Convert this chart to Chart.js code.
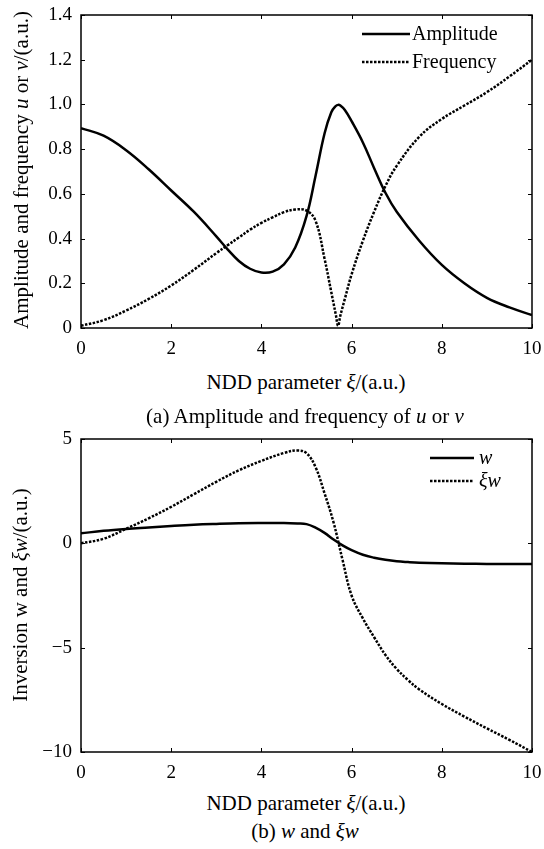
<!DOCTYPE html>
<html><head><meta charset="utf-8">
<script src="https://cdn.jsdelivr.net/npm/chart.js@4"></script>
<style>
body{margin:0;background:#fff;width:544px;height:849px;position:relative;overflow:hidden;font-family:"Liberation Serif","Times New Roman",Times,Tinos,"Noto Serif","DejaVu Serif",serif;color:#000}
canvas{position:absolute;left:0}
.t{position:absolute;font-size:21px;line-height:1;white-space:nowrap;transform:translate(-50%,-50%)}
.r{transform:translate(-50%,-50%) rotate(-90deg)}
</style></head><body>
<canvas id="c1" width="544" height="360" style="top:0"></canvas>
<canvas id="c2" width="544" height="360" style="top:424px"></canvas>
<div class="t r" style="left:21px;top:170px">Amplitude and frequency <i>u</i> or <i>v</i>/(a.u.)</div>
<div class="t" style="left:306px;top:382px">NDD parameter <i>ξ</i>/(a.u.)</div>
<div class="t" style="left:305px;top:416px">(a) Amplitude and frequency of <i>u</i> or <i>v</i></div>
<div class="t r" style="left:20px;top:595px">Inversion w and <i>ξw</i>/(a.u.)</div>
<div class="t" style="left:306px;top:803px">NDD parameter <i>ξ</i>/(a.u.)</div>
<div class="t" style="left:305px;top:831px">(b) <i>w</i> and <i>ξw</i></div>
<script>
// ---- data: chart (a)
const xA = [0,0.5,1,1.5,2,2.5,3,3.25,3.5,3.75,4,4.25,4.5,4.75,5,5.2,5.4,5.55,5.65,5.7,5.75,5.85,6,6.25,6.5,6.75,7,7.5,8,8.5,9,9.5,10];
const amplitude = [0.894,0.86,0.795,0.71,0.615,0.52,0.41,0.352,0.30,0.265,0.248,0.252,0.285,0.36,0.50,0.68,0.87,0.965,0.993,0.998,0.995,0.975,0.925,0.83,0.715,0.605,0.52,0.39,0.282,0.2,0.135,0.092,0.058];
const frequency = [0.01,0.035,0.078,0.13,0.19,0.26,0.335,0.37,0.405,0.44,0.47,0.495,0.518,0.53,0.525,0.48,0.31,0.16,0.06,0.01,0.055,0.13,0.24,0.39,0.52,0.635,0.725,0.855,0.935,0.995,1.055,1.125,1.2];
const yTicksA = ['0','0.2','0.4','0.6','0.8','1.0','1.2','1.4'];
// ---- data: chart (b)
const xB = [0,0.5,1,1.5,2,2.5,3,3.5,4,4.5,4.8,5,5.2,5.4,5.6,5.8,6,6.25,6.5,6.75,7,7.25,7.5,8,8.5,9,9.5,10];
const wVals = [0.48,0.6,0.69,0.76,0.83,0.89,0.93,0.96,0.97,0.97,0.95,0.92,0.75,0.5,0.18,-0.1,-0.33,-0.55,-0.69,-0.79,-0.86,-0.9,-0.93,-0.96,-0.975,-0.985,-0.99,-0.99];
const xiwVals = [0.0,0.22,0.7,1.2,1.75,2.35,2.95,3.5,3.95,4.33,4.45,4.32,3.65,2.4,1.0,-0.8,-2.5,-3.6,-4.5,-5.35,-6.02,-6.55,-7.0,-7.7,-8.3,-8.87,-9.42,-10.0];
const yTicksB = ['\u221210','\u22125','0','5'];
const xTicks = ['0','2','4','6','8','10'];

const FONT = '"Liberation Serif","Times New Roman",Times,Tinos,"Noto Serif","DejaVu Serif",serif';

const framePlugin = {
  id: 'frame',
  afterDatasetsDraw(chart) {
    const {ctx, chartArea: a, scales} = chart;
    ctx.save();
    ctx.strokeStyle = '#000';
    ctx.lineWidth = 1;
    const L = 4;
    scales.x.ticks.forEach(t => {
      const px = Math.round(scales.x.getPixelForValue(t.value)) + 0.5;
      ctx.beginPath();
      ctx.moveTo(px, a.bottom); ctx.lineTo(px, a.bottom - L);
      ctx.moveTo(px, a.top); ctx.lineTo(px, a.top + L);
      ctx.stroke();
    });
    scales.y.ticks.forEach(t => {
      const py = Math.round(scales.y.getPixelForValue(t.value)) + 0.5;
      ctx.beginPath();
      ctx.moveTo(a.left, py); ctx.lineTo(a.left + L, py);
      ctx.moveTo(a.right, py); ctx.lineTo(a.right - L, py);
      ctx.stroke();
    });
    ctx.lineWidth = 1.5;
    ctx.strokeRect(a.left, a.top, a.right - a.left, a.bottom - a.top);
    ctx.restore();
  }
};

const legendPlugin = {
  id: 'inlegend',
  afterDraw(chart, args, o) {
    const {ctx, chartArea: a} = chart;
    ctx.save();
    chart.data.datasets.forEach((ds, i) => {
      const y = a.top + o.y0 + i * o.rowH;
      const x0 = a.right - o.dx;
      ctx.beginPath();
      ctx.strokeStyle = ds.borderColor;
      ctx.lineWidth = ds.borderWidth;
      ctx.setLineDash(ds.borderDash || []);
      ctx.moveTo(x0, y); ctx.lineTo(x0 + o.len, y);
      ctx.stroke();
      ctx.setLineDash([]);
      ctx.fillStyle = '#000';
      ctx.font = (o.italic[i] ? 'italic ' : '') + o.size + 'px ' + FONT;
      ctx.textBaseline = 'middle';
      ctx.textAlign = 'left';
      ctx.fillText(ds.label, x0 + o.len + o.gap, y + 1);
    });
    ctx.restore();
  }
};

function makeChart(id, xs, series, yMin, yMax, yStep, yLabels, leg) {
  return new Chart(document.getElementById(id), {
    type: 'line',
    data: {
      datasets: series.map(s => ({
        label: s.label,
        data: xs.map((x, i) => ({x, y: s.values[i]})),
        borderColor: '#000',
        borderWidth: 2.5,
        borderDash: s.dash,
        borderCapStyle: 'butt',
        pointRadius: 0,
        tension: 0.4,
        fill: false
      }))
    },
    options: {
      responsive: false,
      animation: false,
      devicePixelRatio: 1,
      layout: {padding: {left: 0, right: 12, top: 15, bottom: 0}},
      plugins: {legend: {display: false}, tooltip: {enabled: false}, inlegend: leg},
      scales: {
        x: {
          type: 'linear', min: 0, max: 10,
          ticks: {stepSize: 2, padding: 10, color: '#000', font: {family: FONT, size: 19},
                  callback: (v, i) => xTicks[i], maxRotation: 0},
          grid: {display: true, drawOnChartArea: false, drawTicks: false},
          border: {display: false},
          afterFit: s => { s.height = 32; s.paddingLeft = 0; s.paddingRight = 0; }
        },
        y: {
          type: 'linear', min: yMin, max: yMax,
          ticks: {stepSize: yStep, padding: 9, color: '#000', font: {family: FONT, size: 19},
                  callback: (v, i) => yLabels[i]},
          grid: {display: true, drawOnChartArea: false, drawTicks: false},
          border: {display: false},
          afterFit: s => { s.width = 81; s.paddingTop = 0; s.paddingBottom = 0; }
        }
      }
    },
    plugins: [framePlugin, legendPlugin]
  });
}

makeChart('c1', xA, [
  {label: 'Amplitude', values: amplitude, dash: []},
  {label: 'Frequency', values: frequency, dash: [2.5, 1.5]}
], 0, 1.4, 0.2, yTicksA,
  {dx: 170, y0: 19, rowH: 28, len: 48, gap: 2, size: 20, italic: [false, false]});

makeChart('c2', xB, [
  {label: 'w', values: wVals, dash: []},
  {label: 'ξw', values: xiwVals, dash: [2.5, 1.5]}
], -10, 5, 5, yTicksB,
  {dx: 102, y0: 19, rowH: 23, len: 44, gap: 5, size: 20, italic: [true, true]});
</script>
</body></html>
